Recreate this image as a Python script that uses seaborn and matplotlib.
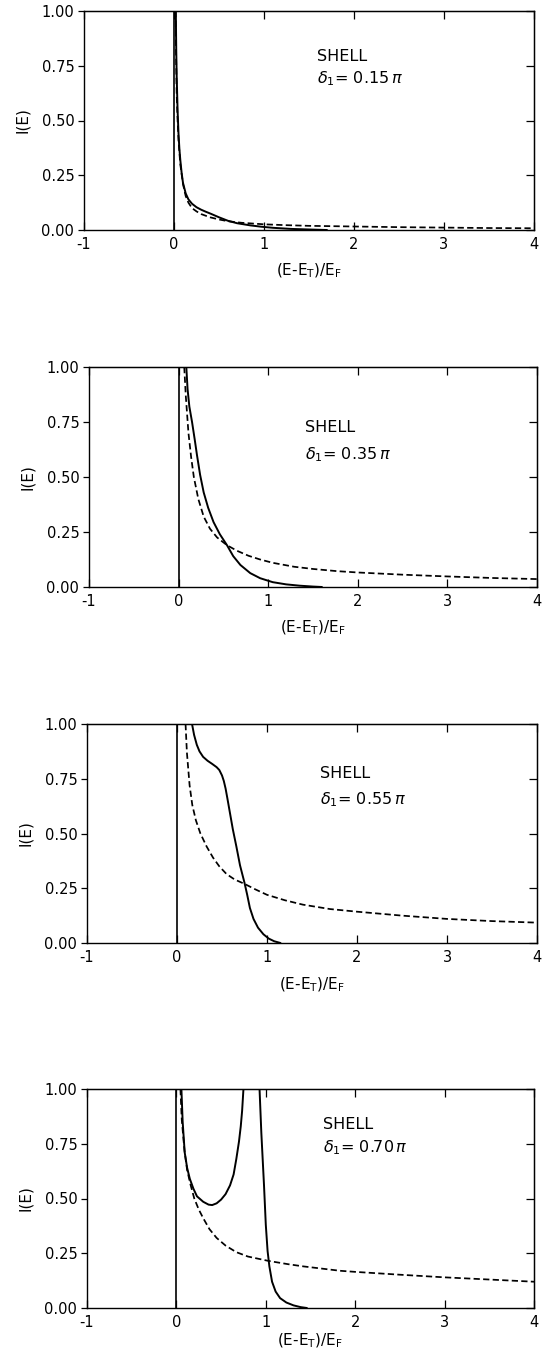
import numpy as np
import pandas as pd
import matplotlib
matplotlib.use("Agg")
import matplotlib.pyplot as plt
import seaborn as sns

# ---------------- data ----------------
phase_labels = ["0.15", "0.35", "0.55", "0.70"]
bound_x = 0.0

# panel 1 (delta = 0.15 pi)
p1_solid_x = [0.02, 0.025, 0.03, 0.04, 0.05, 0.06, 0.07, 0.085, 0.10, 0.13, 0.16, 0.20, 0.25, 0.30,
              0.35, 0.41, 0.50, 0.60, 0.70, 0.85, 0.97, 1.10, 1.30, 1.53, 1.70]
p1_solid_y = [1.00, 0.82, 0.70, 0.545, 0.44, 0.37, 0.32, 0.26, 0.215, 0.167, 0.14, 0.12, 0.104, 0.093,
              0.084, 0.074, 0.058, 0.042, 0.031, 0.021, 0.015, 0.010, 0.005, 0.002, 0.0]
p1_dash_x = [0.018, 0.022, 0.03, 0.04, 0.05, 0.07, 0.10, 0.13, 0.16, 0.20, 0.25, 0.30, 0.40, 0.50,
             0.60, 0.75, 1.00, 1.25, 1.50, 2.00, 2.50, 3.00, 3.50, 4.00]
p1_dash_y = [1.00, 0.82, 0.62, 0.50, 0.41, 0.30, 0.21, 0.155, 0.125, 0.10, 0.085, 0.073, 0.058, 0.048,
             0.040, 0.033, 0.026, 0.022, 0.019, 0.016, 0.013, 0.011, 0.009, 0.008]

# panel 2 (delta = 0.35 pi)
p2_solid_x = [0.086, 0.10, 0.12, 0.15, 0.18, 0.205, 0.24, 0.28, 0.33, 0.39, 0.46, 0.54, 0.61, 0.69,
              0.80, 0.91, 1.05, 1.20, 1.35, 1.50, 1.60]
p2_solid_y = [1.00, 0.90, 0.82, 0.75, 0.67, 0.60, 0.51, 0.43, 0.36, 0.295, 0.24, 0.19, 0.14, 0.10,
              0.063, 0.040, 0.022, 0.012, 0.006, 0.002, 0.0]
p2_dash_x = [0.063, 0.08, 0.11, 0.14, 0.17, 0.22, 0.28, 0.35, 0.43, 0.54, 0.65, 0.78, 0.91, 1.05,
             1.29, 1.50, 1.77, 2.00, 2.50, 3.00, 3.50, 4.00]
p2_dash_y = [1.00, 0.87, 0.70, 0.59, 0.50, 0.40, 0.32, 0.265, 0.225, 0.19, 0.165, 0.142, 0.125, 0.11,
             0.092, 0.082, 0.072, 0.066, 0.056, 0.048, 0.041, 0.036]

# panel 3 (delta = 0.55 pi)
p3_solid_x = [0.167, 0.19, 0.22, 0.25, 0.29, 0.34, 0.39, 0.44, 0.47, 0.50, 0.52, 0.54, 0.56, 0.59,
              0.62, 0.66, 0.70, 0.75, 0.78, 0.81, 0.85, 0.90, 0.96, 1.02, 1.08, 1.15]
p3_solid_y = [1.00, 0.95, 0.905, 0.875, 0.85, 0.832, 0.818, 0.803, 0.79, 0.765, 0.74, 0.705, 0.66, 0.59,
              0.52, 0.44, 0.355, 0.275, 0.22, 0.16, 0.11, 0.07, 0.04, 0.02, 0.008, 0.0]
p3_dash_x = [0.095, 0.11, 0.14, 0.17, 0.21, 0.26, 0.33, 0.40, 0.47, 0.55, 0.64, 0.75, 0.87, 1.00,
             1.20, 1.40, 1.70, 2.00, 2.50, 3.00, 3.50, 4.00]
p3_dash_y = [1.00, 0.87, 0.72, 0.63, 0.56, 0.50, 0.44, 0.39, 0.35, 0.315, 0.29, 0.27, 0.245, 0.22,
             0.195, 0.175, 0.155, 0.143, 0.125, 0.11, 0.10, 0.093]

# panel 4 (delta = 0.70 pi): resonance, solid curve leaves the frame between the two branches
p4_solid_a_x = [0.056, 0.07, 0.093, 0.12, 0.15, 0.19, 0.23, 0.30, 0.36, 0.40, 0.45, 0.50, 0.55, 0.60,
                0.64, 0.67, 0.70, 0.72, 0.735, 0.75]
p4_solid_a_y = [1.00, 0.85, 0.71, 0.64, 0.59, 0.545, 0.51, 0.485, 0.472, 0.470, 0.478, 0.495, 0.52, 0.56,
                0.61, 0.68, 0.76, 0.83, 0.90, 1.00]
p4_solid_b_x = [0.93, 0.95, 0.98, 1.00, 1.02, 1.04, 1.07, 1.11, 1.16, 1.23, 1.31, 1.39, 1.46]
p4_solid_b_y = [1.00, 0.80, 0.56, 0.38, 0.26, 0.19, 0.12, 0.075, 0.045, 0.025, 0.012, 0.004, 0.0]
p4_dash_x = [0.045, 0.06, 0.09, 0.12, 0.16, 0.20, 0.25, 0.30, 0.37, 0.45, 0.55, 0.67, 0.80, 1.03,
             1.25, 1.42, 1.83, 2.00, 2.50, 3.00, 3.50, 4.00]
p4_dash_y = [1.00, 0.86, 0.72, 0.63, 0.56, 0.50, 0.45, 0.41, 0.36, 0.32, 0.285, 0.255, 0.235, 0.215,
             0.20, 0.19, 0.17, 0.165, 0.152, 0.14, 0.13, 0.12]

x_ticks = [-1, 0, 1, 2, 3, 4]
x_tick_labels = ["-1", "0", "1", "2", "3", "4"]
y_ticks = [0.0, 0.25, 0.5, 0.75, 1.0]
y_tick_labels = ["0.00", "0.25", "0.50", "0.75", "1.00"]

# ---------------- layout ----------------
sns.set_style("ticks")
plt.rcParams["font.family"] = ["DejaVu Sans"]
plt.rcParams["mathtext.fontset"] = "dejavusans"
plt.rcParams["text.color"] = "black"
plt.rcParams["axes.labelcolor"] = "black"
plt.rcParams["xtick.color"] = "black"
plt.rcParams["ytick.color"] = "black"
plt.rcParams["axes.edgecolor"] = "black"

W, H = 543, 1357
fig = plt.figure(figsize=(W / 100, H / 100), dpi=100)

# axes boxes in pixels: left, top, right, bottom
boxes = [(84, 11, 534, 230), (89, 367, 537, 587), (87, 724, 537, 943), (87, 1089, 534, 1308)]
xlabel_pads = [7, 7, 8, 1.5]
text_pos = [(1.59, 0.79, 0.69), (1.41, 0.726, 0.60), (1.59, 0.775, 0.653), (1.64, 0.836, 0.73)]

solids = [
    [(p1_solid_x, p1_solid_y)],
    [(p2_solid_x, p2_solid_y)],
    [(p3_solid_x, p3_solid_y)],
    [(p4_solid_a_x, p4_solid_a_y), (p4_solid_b_x, p4_solid_b_y)],
]
dashes = [(p1_dash_x, p1_dash_y), (p2_dash_x, p2_dash_y), (p3_dash_x, p3_dash_y), (p4_dash_x, p4_dash_y)]

for i, (l, t, r, b) in enumerate(boxes):
    ax = fig.add_axes([l / W, 1 - b / H, (r - l) / W, (b - t) / H])
    ax.axvline(bound_x, color="black", lw=1.2)
    for sx, sy in solids[i]:
        sns.lineplot(x=sx, y=sy, ax=ax, color="black", lw=1.4, estimator=None, sort=False)
    dx, dy = dashes[i]
    sns.lineplot(x=dx, y=dy, ax=ax, color="black", lw=1.25, estimator=None, sort=False,
                 linestyle=(0, (3.6, 1.9)))
    ax.set_xlim(-1, 4)
    ax.set_ylim(0, 1)
    ax.set_xticks(x_ticks)
    ax.set_xticklabels(x_tick_labels, fontsize=10.5)
    ax.set_yticks(y_ticks)
    ax.set_yticklabels(y_tick_labels, fontsize=10.5)
    ax.tick_params(axis="x", direction="in", length=6, width=0.9, pad=5)
    ax.tick_params(axis="y", direction="out", length=4, width=0.9, pad=3)
    for s in ax.spines.values():
        s.set_visible(True)
        s.set_linewidth(1.0)
    top = ax.secondary_xaxis("top")
    top.set_xticks(x_ticks)
    top.tick_params(direction="in", length=6, width=0.9, labeltop=False)
    right = ax.secondary_yaxis("right")
    right.set_yticks(y_ticks)
    right.tick_params(direction="in", length=6, width=0.9, labelright=False)
    ax.set_xlabel(r"(E-E$_\mathregular{T}$)/E$_\mathregular{F}$", fontsize=11, labelpad=xlabel_pads[i])
    ax.set_ylabel("I(E)", fontsize=11, labelpad=8)
    tx, ty1, ty2 = text_pos[i]
    ax.text(tx, ty1, "SHELL", fontsize=11.5, ha="left", va="center")
    ax.text(tx, ty2, r"$\delta_\mathregular{1}$= " + phase_labels[i] + r"$\,\pi$",
            fontsize=11.5, ha="left", va="center")

fig.savefig("out.png", dpi=100, facecolor="white")
